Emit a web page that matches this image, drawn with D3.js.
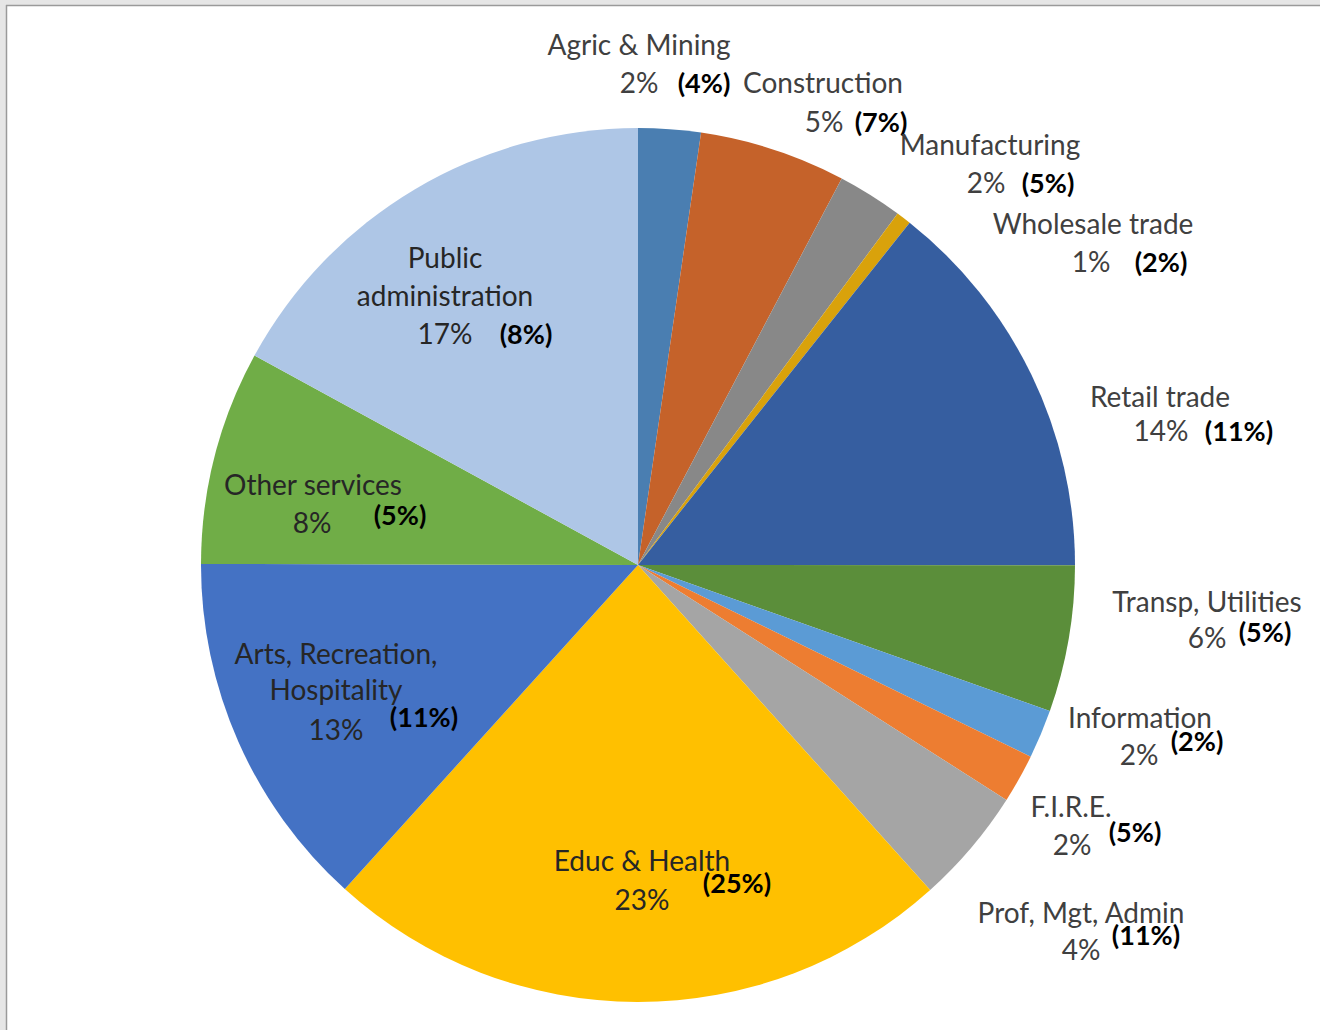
<!DOCTYPE html>
<html>
<head>
<meta charset="utf-8">
<script src="https://cdn.jsdelivr.net/npm/d3@7"></script>
<style>
  html, body { margin: 0; padding: 0; background: #e6e6e6; }
  svg { display: block; }
</style>
</head>
<body>
<svg id="chart"></svg>
<script>
// Sectors clockwise from 12 o'clock
const sectors = ["Agric & Mining", "Construction", "Manufacturing", "Wholesale trade",
  "Retail trade", "Transp, Utilities", "Information", "F.I.R.E.", "Prof, Mgt, Admin",
  "Educ & Health", "Arts, Recreation, Hospitality", "Other services", "Public administration"];
// slice sizes (share, %)
const shares = [2.3, 5.4, 2.4, 0.55, 14.3, 5.4, 1.8, 1.8, 4.3, 23.3, 13.3, 7.9, 17.0];
const shareLabels = ["2%", "5%", "2%", "1%", "14%", "6%", "2%", "2%", "4%", "23%", "13%", "8%", "17%"];
const compareLabels = ["(4%)", "(7%)", "(5%)", "(2%)", "(11%)", "(5%)", "(2%)", "(5%)", "(11%)", "(25%)", "(11%)", "(5%)", "(8%)"];
const nameLines = [["Agric & Mining"], ["Construction"], ["Manufacturing"], ["Wholesale trade"],
  ["Retail trade"], ["Transp, Utilities"], ["Information"], ["F.I.R.E."], ["Prof, Mgt, Admin"],
  ["Educ & Health"], ["Arts, Recreation,", "Hospitality"], ["Other services"], ["Public", "administration"]];
const colors = ["#4a7eb1", "#c5622a", "#888888", "#d9a20b", "#365ea0", "#5b8e3a", "#5b9bd5",
  "#ed7d31", "#a5a5a5", "#ffc000", "#4472c4", "#70ad47", "#aec6e6"];
const inside = [false, false, false, false, false, false, false, false, false, true, true, true, true];

// label placement: name line centres / baselines, share and (compare) positions
const labelLayout = [
  { names: [[639, 55]], share: [639, 93], compare: [704, 93] },
  { names: [[823, 93]], share: [824, 132], compare: [881, 132] },
  { names: [[990, 155]], share: [986, 193], compare: [1048, 193] },
  { names: [[1093, 234]], share: [1091, 272], compare: [1161, 272] },
  { names: [[1160, 407]], share: [1161, 441], compare: [1239, 441] },
  { names: [[1207, 612]], share: [1207, 648], compare: [1265, 642] },
  { names: [[1140, 728]], share: [1139, 765], compare: [1197, 751] },
  { names: [[1071, 817]], share: [1072, 855], compare: [1135, 842] },
  { names: [[1081, 923]], share: [1081, 960], compare: [1146, 945] },
  { names: [[642, 871]], share: [642, 910], compare: [737, 893] },
  { names: [[336, 664], [336, 700]], share: [336, 740], compare: [424, 727] },
  { names: [[313, 495]], share: [312, 533], compare: [400, 525] },
  { names: [[445, 268], [445, 306]], share: [445, 344], compare: [526, 344] }
];

const W = 1320, H = 1030;
const cx = 638, cy = 565, radius = 437;
const font = "Lato, 'Open Sans', sans-serif";

const svg = d3.select("#chart").attr("width", W).attr("height", H);

// frame
svg.append("rect").attr("x", 6).attr("y", 5).attr("width", W - 6).attr("height", H - 5)
  .attr("fill", "#ffffff");
svg.append("line").attr("x1", 6).attr("x2", W).attr("y1", 5.5).attr("y2", 5.5)
  .attr("stroke", "#9a9a9a").attr("stroke-width", 1.5);
svg.append("line").attr("x1", 6.5).attr("x2", 6.5).attr("y1", 5).attr("y2", H)
  .attr("stroke", "#9a9a9a").attr("stroke-width", 1.5);

const pie = d3.pie().sort(null).value(d => d);
const arc = d3.arc().innerRadius(0).outerRadius(radius);

const g = svg.append("g").attr("transform", `translate(${cx},${cy})`);
g.selectAll("path.slice")
  .data(pie(shares))
  .enter()
  .append("path")
  .attr("class", "slice")
  .attr("d", arc)
  .attr("fill", (d, i) => colors[i]);

// labels
const labels = svg.append("g").style("font-family", font);
sectors.forEach((s, i) => {
  const lay = labelLayout[i];
  const col = inside[i] ? "#262626" : "#404040";
  nameLines[i].forEach((line, j) => {
    labels.append("text")
      .attr("x", lay.names[j][0]).attr("y", lay.names[j][1])
      .attr("text-anchor", "middle")
      .style("font-size", "28px")
      .attr("fill", col)
      .text(line);
  });
  labels.append("text")
    .attr("x", lay.share[0]).attr("y", lay.share[1])
    .attr("text-anchor", "middle")
    .style("font-size", "28px")
    .attr("fill", col)
    .text(shareLabels[i]);
  labels.append("text")
    .attr("x", lay.compare[0]).attr("y", lay.compare[1])
    .attr("text-anchor", "middle")
    .style("font-size", "27px")
    .style("font-weight", "bold")
    .attr("fill", "#000000")
    .text(compareLabels[i]);
});
</script>
</body>
</html>
